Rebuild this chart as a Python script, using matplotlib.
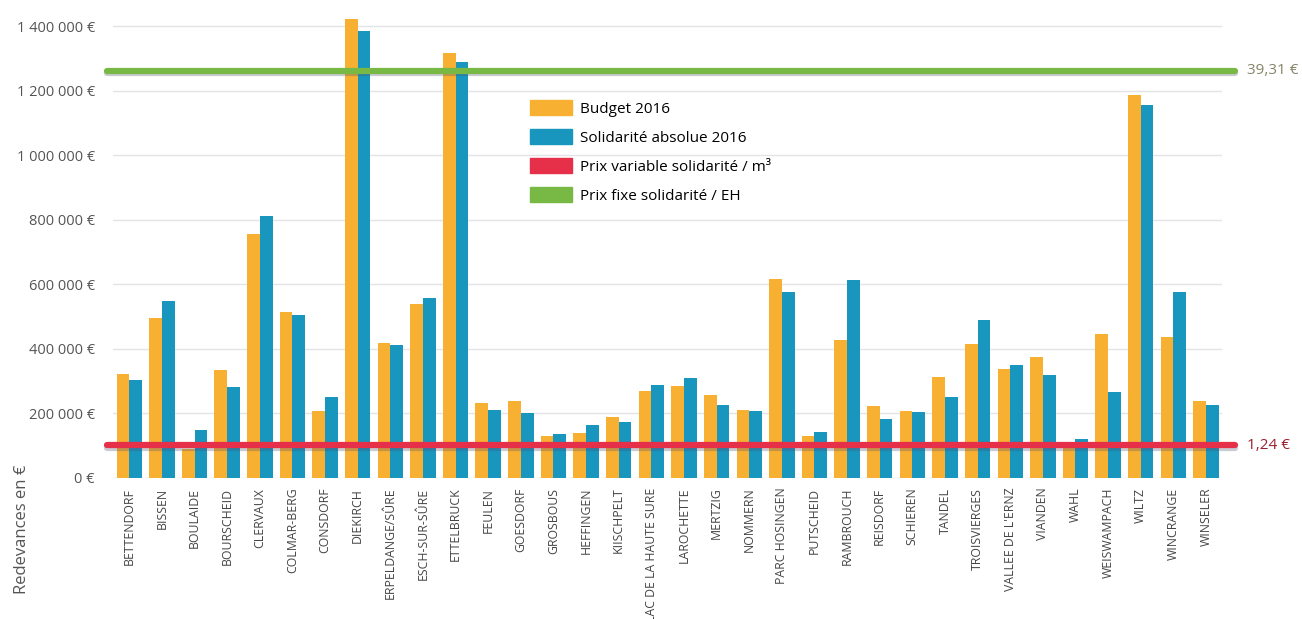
import numpy as np
import matplotlib.pyplot as plt
import matplotlib.patheffects as pe
from matplotlib.patches import Patch

plt.rcParams['font.family'] = ['Open Sans', 'DejaVu Sans']

# Communes
communes = ["BETTENDORF", "BISSEN", "BOULAIDE", "BOURSCHEID", "CLERVAUX", "COLMAR-BERG",
            "CONSDORF", "DIEKIRCH", "ERPELDANGE/SÛRE", "ESCH-SUR-SÛRE", "ETTELBRUCK",
            "FEULEN", "GOESDORF", "GROSBOUS", "HEFFINGEN", "KIISCHPELT",
            "LAC DE LA HAUTE SURE", "LAROCHETTE", "MERTZIG", "NOMMERN", "PARC HOSINGEN",
            "PUTSCHEID", "RAMBROUCH", "REISDORF", "SCHIEREN", "TANDEL", "TROISVIERGES",
            "VALLEE DE L'ERNZ", "VIANDEN", "WAHL", "WEISWAMPACH", "WILTZ", "WINCRANGE",
            "WINSELER"]

# Budget 2016 (€)
budget = [322000, 497000, 90000, 336000, 755000, 513000, 208000, 1423000, 419000, 540000,
          1317000, 233000, 240000, 130000, 140000, 190000, 271000, 286000, 256000, 211000,
          618000, 131000, 428000, 223000, 207000, 314000, 415000, 337000, 374000, 95000,
          446000, 1188000, 437000, 240000]

# Solidarité absolue 2016 (€)
solidarite = [304000, 547000, 148000, 281000, 813000, 505000, 252000, 1385000, 412000, 558000,
              1289000, 212000, 201000, 135000, 163000, 173000, 288000, 309000, 225000, 208000,
              576000, 142000, 612000, 183000, 205000, 250000, 491000, 350000, 319000, 120000,
              266000, 1157000, 577000, 225000]

# Prix de solidarité (niveau de la ligne dans le graphique, étiquette)
prix_fixe_niveau, prix_fixe_txt = 1262000, "39,31 €"
prix_var_niveau, prix_var_txt = 102000, "1,24 €"

yticks = np.arange(0, 1400001, 200000)
ytick_labels = ["0 €", "200 000 €", "400 000 €", "600 000 €", "800 000 €",
                "1 000 000 €", "1 200 000 €", "1 400 000 €"]

orange = "#F8B033"
bleu = "#1896BE"
vert = "#78B844"
rouge = "#E63049"

fig = plt.figure(figsize=(13.02, 6.19), dpi=100)
ax = fig.add_axes([0.0868, 0.2278, 0.852, 0.756])

x = np.arange(len(communes))
w = 0.39
ax.bar(x - w / 2, budget, w, color=orange, zorder=2)
ax.bar(x + w / 2, solidarite, w, color=bleu, zorder=2)

ax.set_xlim(-0.5, len(communes) - 0.5)
ax.set_ylim(0, 1450000)
ax.set_yticks(yticks)
ax.set_yticklabels(ytick_labels, fontsize=10.5, color="#555555")
ax.set_xticks(x)
ax.set_xticklabels(communes, rotation=90, fontsize=8.8, color="#444444")
ax.tick_params(length=0)
ax.tick_params(axis="y", pad=13)
ax.tick_params(axis="x", pad=7)
ax.grid(axis="y", color="#e2e4e8", linewidth=1, zorder=0)
for s in ax.spines.values():
    s.set_visible(False)

ombre = [pe.SimpleLineShadow(offset=(0, -1.8), shadow_color="#505070", alpha=0.3),
         pe.Normal()]
for niveau, coul, txt, tcol in [(prix_fixe_niveau, vert, prix_fixe_txt, "#85856a"),
                                 (prix_var_niveau, rouge, prix_var_txt, "#9a1f2e")]:
    ax.axhline(niveau, xmin=-0.005, xmax=1.011, color=coul, linewidth=4.5,
               clip_on=False, zorder=3, path_effects=ombre, solid_capstyle="round")
    ax.text(1.022, niveau, txt, transform=ax.get_yaxis_transform(), va="center",
            ha="left", fontsize=11, color=tcol)

fig.text(0.017, 0.145, "Redevances en €", rotation=90, va="center", ha="center",
         fontsize=12, color="#555555")

handles = [Patch(color=orange), Patch(color=bleu), Patch(color=rouge), Patch(color=vert)]
labels = ["Budget 2016", "Solidarité absolue 2016", "Prix variable solidarité / m³",
          "Prix fixe solidarité / EH"]
fig.legend(handles, labels, loc="upper left", bbox_to_anchor=(530 / 1302, 1 - 100 / 619),
           frameon=False, fontsize=11, handlelength=2.75, handleheight=1.15,
           labelspacing=0.8, borderpad=0, borderaxespad=0, handletextpad=0.55)

fig.savefig("out.png", dpi=100)
